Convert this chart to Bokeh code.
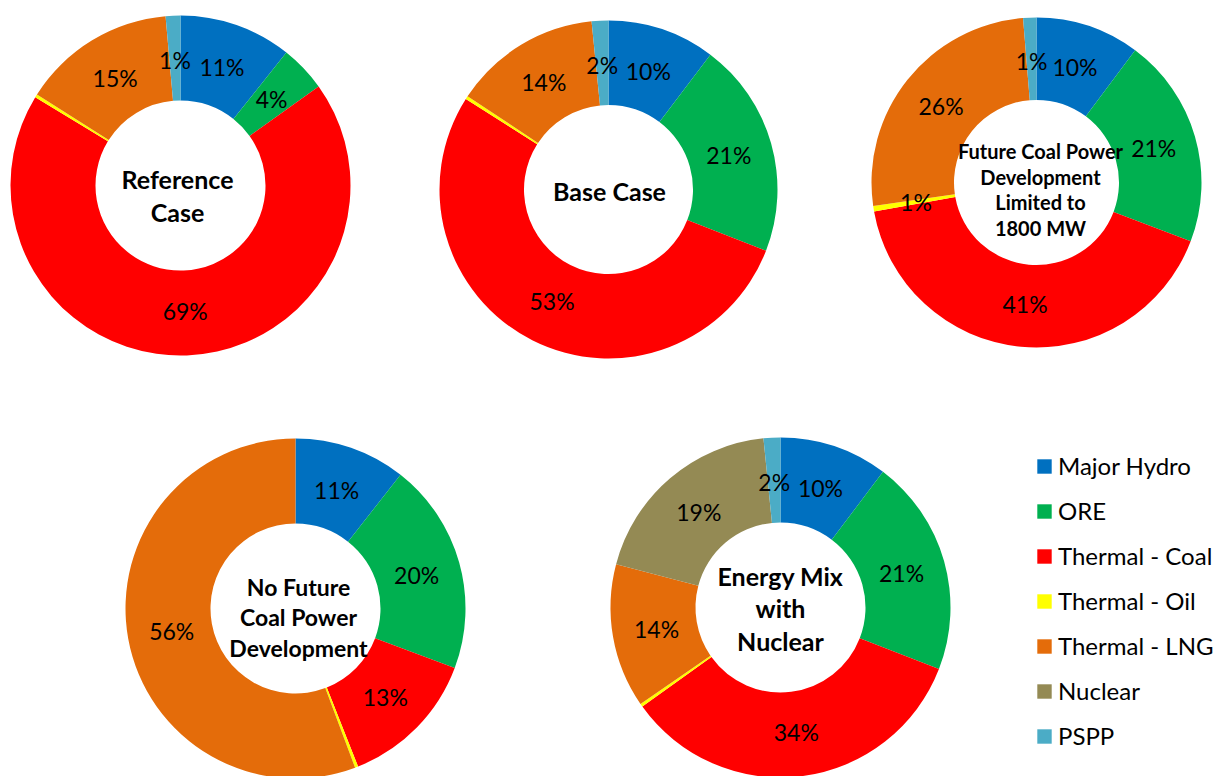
import math
from bokeh.plotting import figure
from bokeh.models import ColumnDataSource, Range1d, Legend, LegendItem
from bokeh.core.properties import value
from bokeh.embed import file_html
from bokeh.resources import INLINE

# ---------------- data ----------------
categories = ["Major Hydro", "ORE", "Thermal - Coal", "Thermal - Oil",
              "Thermal - LNG", "Nuclear", "PSPP"]
colors = ["#0070C0", "#00B050", "#FF0000", "#FFFF00", "#E46C0A", "#948A54", "#4BACC6"]

scenario_titles = ["Reference\nCase", "Base Case",
                   "Future Coal Power\nDevelopment\nLimited to\n1800 MW",
                   "No Future\nCoal Power\nDevelopment",
                   "Energy Mix\nwith\nNuclear"]

reference_case = [10.7, 4.4, 68.6, 0.3, 14.6, 0.0, 1.4]
base_case = [10.3, 20.6, 53.1, 0.3, 14.1, 0.0, 1.6]
coal_limited_1800mw = [10.2, 20.6, 41.4, 0.52, 25.98, 0.0, 1.3]
no_future_coal = [10.6, 20.1, 13.3, 0.3, 55.7, 0.0, 0.0]
energy_mix_nuclear = [10.3, 20.6, 34.2, 0.3, 13.7, 19.3, 1.6]

scenarios = [reference_case, base_case, coal_limited_1800mw, no_future_coal, energy_mix_nuclear]

# ---------------- layout (page pixels) ----------------
W, H = 1218, 776
layout = [
    dict(cx=180, cy=185, r=170, tx=177, ty=195, fs=25, lh=1.07),
    dict(cx=608, cy=189, r=169, tx=609, ty=190, fs=25, lh=1.07),
    dict(cx=1036, cy=182, r=165, tx=1040, ty=189, fs=20, lh=1.07),
    dict(cx=295, cy=608, r=170, tx=298, ty=617, fs=23, lh=1.08),
    dict(cx=780, cy=607, r=170, tx=780, ty=608, fs=25, lh=1.07),
]
HOLE = 0.5
LABEL_R = 0.74

p = figure(width=W, height=H, x_range=Range1d(0, W), y_range=Range1d(0, H),
           output_backend="svg", toolbar_location=None, min_border=0,
           x_axis_location=None, y_axis_location=None)
p.grid.visible = False
p.outline_line_color = None
p.background_fill_color = "white"
p.border_fill_color = "white"

# wedges: one renderer per category across all donuts
renderers = []
for k, cat in enumerate(categories):
    d = dict(x=[], y=[], ri=[], ro=[], sa=[], ea=[])
    for vals, lay in zip(scenarios, layout):
        total = sum(vals)
        if vals[k] <= 0:
            continue
        c0 = sum(vals[:k]) / total
        c1 = sum(vals[:k + 1]) / total
        d["x"].append(lay["cx"])
        d["y"].append(H - lay["cy"])
        d["ri"].append(lay["r"] * HOLE)
        d["ro"].append(lay["r"])
        d["sa"].append(math.pi / 2 - 2 * math.pi * c0)
        d["ea"].append(math.pi / 2 - 2 * math.pi * c1)
    src = ColumnDataSource(d)
    r = p.annular_wedge(x="x", y="y", inner_radius="ri", outer_radius="ro",
                        start_angle="sa", end_angle="ea", direction="clock",
                        fill_color=colors[k], line_color=None, source=src)
    renderers.append(r)

# percentage labels
lab = dict(x=[], y=[], t=[])
for vals, lay in zip(scenarios, layout):
    total = sum(vals)
    cum = 0.0
    for k, v in enumerate(vals):
        c0 = cum / total
        cum += v
        c1 = cum / total
        pct = round(v / total * 100)
        if pct < 1:
            continue
        a = math.pi / 2 - 2 * math.pi * (c0 + c1) / 2
        rr = lay["r"] * LABEL_R
        lab["x"].append(lay["cx"] + rr * math.cos(a))
        lab["y"].append(H - lay["cy"] + rr * math.sin(a))
        lab["t"].append(f"{pct}%")
p.text(x="x", y="y", text="t", source=ColumnDataSource(lab),
       text_font=value("Lato"), text_font_size="23px", text_color="black",
       text_align="center", text_baseline="middle")

# center titles
for title, lay in zip(scenario_titles, layout):
    p.text(x=[lay["tx"]], y=[H - lay["ty"]], text=[title],
           text_font=value("Lato"), text_font_style="bold",
           text_font_size=f"{lay['fs']}px", text_color="black",
           text_align="center", text_baseline="middle",
           text_line_height=lay["lh"])

legend = Legend(items=[LegendItem(label=c, renderers=[r]) for c, r in zip(categories, renderers)],
                location=(1035, 26), orientation="vertical",
                glyph_width=18, glyph_height=18, label_standoff=5,
                label_text_font="Lato", label_text_font_size="24px",
                label_text_color="black", label_height=20, spacing=16,
                padding=0, margin=0, border_line_color=None,
                background_fill_alpha=0)
p.add_layout(legend)

open("out.html", "w").write(file_html(p, INLINE))
